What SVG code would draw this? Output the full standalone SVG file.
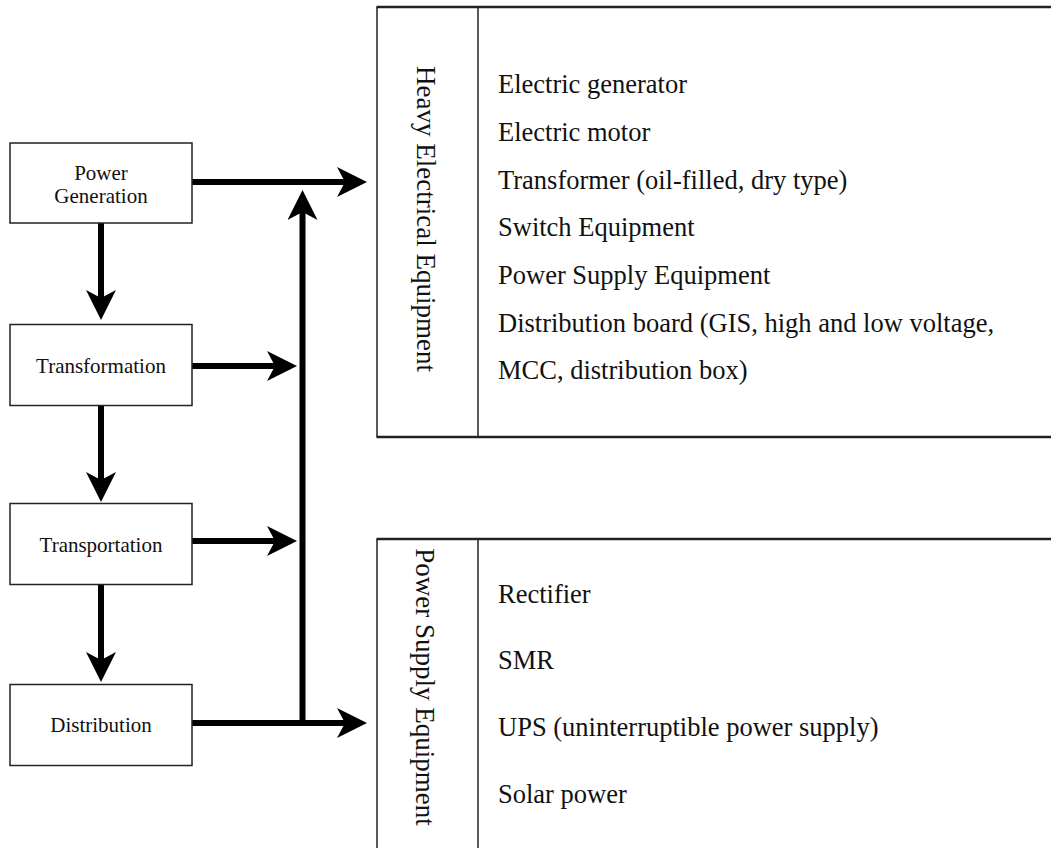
<svg xmlns="http://www.w3.org/2000/svg" width="1051" height="848" viewBox="0 0 1051 848">
<style>
.box{fill:#fff;stroke:#222;stroke-width:1.5}
.bt{font-family:"Liberation Serif","Times New Roman",serif;font-size:21px;fill:#111;text-anchor:middle}
.lt{font-family:"Liberation Serif","Times New Roman",serif;font-size:26.5px;fill:#111}
.vt{font-family:"Liberation Serif","Times New Roman",serif;font-size:27px;fill:#111;text-anchor:middle}
.con{stroke:#000;stroke-width:6;fill:none}
.tv{stroke:#222;stroke-width:1.5;fill:none}
.th{stroke:#222;stroke-width:2.5;fill:none}
</style>
<defs>
<marker id="ah" viewBox="0 0 30 30" refX="10" refY="15" markerWidth="30" markerHeight="30" markerUnits="userSpaceOnUse" orient="auto">
<path d="M0,0 L30,15 L0,30 L8,15 Z" fill="#000"/>
</marker>
</defs>
<rect width="1051" height="848" fill="#fff"/>
<g id="connectors">
<line class="con" x1="101" y1="223" x2="101" y2="300" marker-end="url(#ah)"/>
<line class="con" x1="101" y1="406" x2="101" y2="482" marker-end="url(#ah)"/>
<line class="con" x1="101" y1="585" x2="101" y2="662" marker-end="url(#ah)"/>
<line class="con" x1="192" y1="182" x2="347" y2="182" marker-end="url(#ah)"/>
<line class="con" x1="192" y1="366" x2="277" y2="366" marker-end="url(#ah)"/>
<line class="con" x1="192" y1="541" x2="277" y2="541" marker-end="url(#ah)"/>
<line class="con" x1="192" y1="723" x2="347" y2="723" marker-end="url(#ah)"/>
<line class="con" x1="302.5" y1="726" x2="302.5" y2="210" marker-end="url(#ah)"/>
</g>
<g id="power-generation">
<rect class="box" x="10" y="143" width="182" height="80"/>
<text class="bt" x="101" y="180">Power</text>
<text class="bt" x="101" y="203">Generation</text>
</g>
<g id="transformation">
<rect class="box" x="10" y="324.5" width="182" height="81"/>
<text class="bt" x="101" y="373">Transformation</text>
</g>
<g id="transportation">
<rect class="box" x="10" y="503.5" width="182" height="81"/>
<text class="bt" x="101" y="552">Transportation</text>
</g>
<g id="distribution">
<rect class="box" x="10" y="684.5" width="182" height="81"/>
<text class="bt" x="101" y="732">Distribution</text>
</g>
<g id="heavy-electrical-equipment">
<rect x="377" y="7" width="680" height="430" fill="#fff"/>
<line class="th" x1="376.5" y1="7" x2="1055" y2="7"/>
<line class="th" x1="376.5" y1="437" x2="1055" y2="437"/>
<line class="tv" x1="377" y1="7" x2="377" y2="437"/>
<line class="tv" x1="478" y1="7" x2="478" y2="437"/>
<text class="vt" transform="translate(417,219) rotate(90)">Heavy Electrical Equipment</text>
<text class="lt" x="498" y="93">Electric generator</text>
<text class="lt" x="498" y="141">Electric motor</text>
<text class="lt" x="498" y="189">Transformer (oil-filled, dry type)</text>
<text class="lt" x="498" y="236">Switch Equipment</text>
<text class="lt" x="498" y="284">Power Supply Equipment</text>
<text class="lt" x="498" y="332">Distribution board (GIS, high and low voltage,</text>
<text class="lt" x="498" y="379">MCC, distribution box)</text>
</g>
<g id="power-supply-equipment">
<line class="th" x1="376.5" y1="539" x2="1055" y2="539"/>
<line class="tv" x1="377" y1="539" x2="377" y2="850"/>
<line class="tv" x1="478" y1="539" x2="478" y2="850"/>
<text class="vt" transform="translate(416,687) rotate(90)">Power Supply Equipment</text>
<text class="lt" x="498" y="603">Rectifier</text>
<text class="lt" x="498" y="669">SMR</text>
<text class="lt" x="498" y="736">UPS (uninterruptible power supply)</text>
<text class="lt" x="498" y="803">Solar power</text>
</g>
</svg>
